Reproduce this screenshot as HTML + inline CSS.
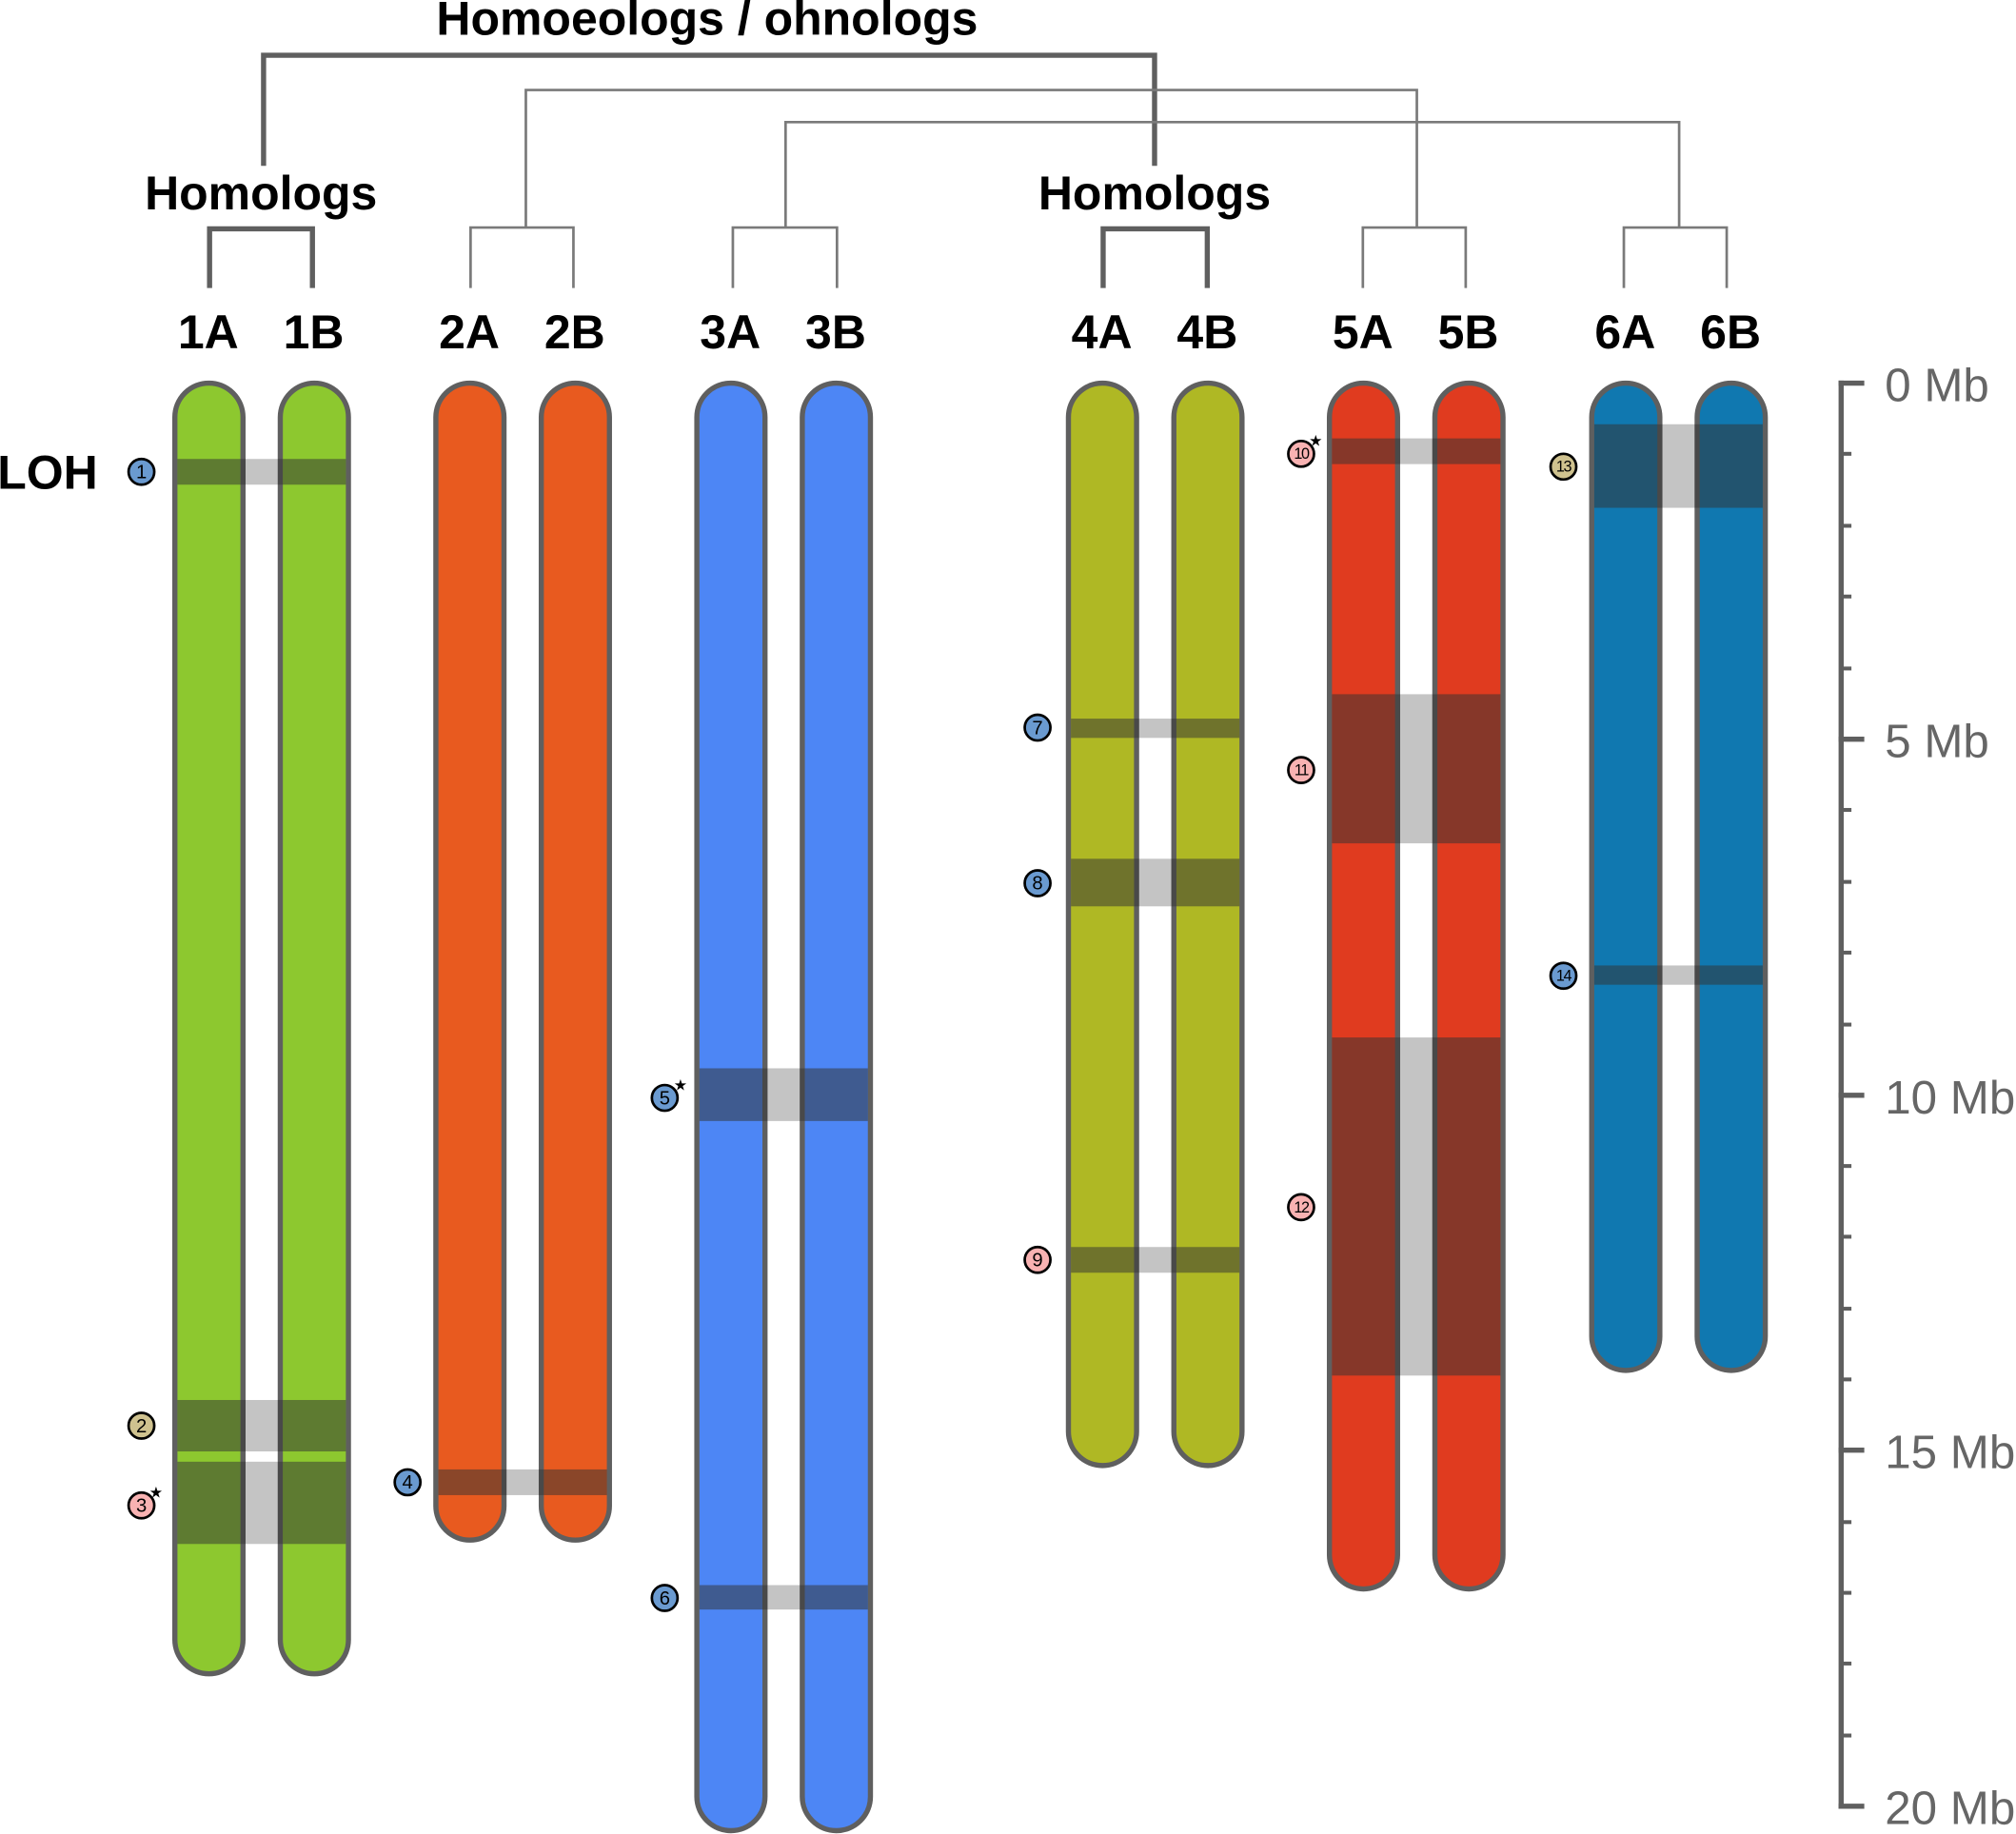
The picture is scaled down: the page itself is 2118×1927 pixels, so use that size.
<!DOCTYPE html>
<html><head><meta charset="utf-8"><style>
html,body{margin:0;padding:0;background:#fff;}
svg{display:block;}
text{font-family:"Liberation Sans",sans-serif;}
</style></head><body>
<svg width="2118" height="1927" viewBox="0 0 1568 1426.6" xmlns="http://www.w3.org/2000/svg">
<!-- tree -->
<g fill="none" stroke-linejoin="miter">
<polyline points="205,129 205,43 898,43 898,129" stroke="#5f5f5f" stroke-width="4"/>
<polyline points="409,177 409,70 1102,70 1102,177" stroke="#7a7a7a" stroke-width="2"/>
<polyline points="611,177 611,95 1306,95 1306,177" stroke="#7a7a7a" stroke-width="2"/>
<polyline points="163,224 163,178 243,178 243,224" stroke="#5f5f5f" stroke-width="4"/>
<polyline points="858,224 858,178 939,178 939,224" stroke="#5f5f5f" stroke-width="4"/>
<polyline points="366,224 366,177 446,177 446,224" stroke="#7a7a7a" stroke-width="2"/>
<polyline points="570,224 570,177 651,177 651,224" stroke="#7a7a7a" stroke-width="2"/>
<polyline points="1060,224 1060,177 1140,177 1140,224" stroke="#7a7a7a" stroke-width="2"/>
<polyline points="1263,224 1263,177 1343,177 1343,224" stroke="#7a7a7a" stroke-width="2"/>
</g>
<g font-weight="bold" font-size="37" fill="#000" text-anchor="middle">
<text x="550" y="27">Homoeologs / ohnologs</text>
<text x="203" y="163">Homologs</text>
<text x="898" y="163">Homologs</text>
<text x="162" y="271">1A</text><text x="244" y="271">1B</text>
<text x="365" y="271">2A</text><text x="447" y="271">2B</text>
<text x="568" y="271">3A</text><text x="650" y="271">3B</text>
<text x="857" y="271">4A</text><text x="939" y="271">4B</text>
<text x="1060" y="271">5A</text><text x="1142" y="271">5B</text>
<text x="1264" y="271">6A</text><text x="1346" y="271">6B</text>
<text x="37" y="380">LOH</text>
</g>
<!-- chromosomes -->
<g stroke="#5f5f5f" stroke-width="4">
<rect x="136" y="298" width="53" height="1004" rx="26.5" fill="#8dc82f"/>
<rect x="218" y="298" width="53" height="1004" rx="26.5" fill="#8dc82f"/>
<rect x="339" y="298" width="53" height="900" rx="26.5" fill="#e85a1f"/>
<rect x="421" y="298" width="53" height="900" rx="26.5" fill="#e85a1f"/>
<rect x="542" y="298" width="53" height="1126" rx="26.5" fill="#4d86f5"/>
<rect x="624" y="298" width="53" height="1126" rx="26.5" fill="#4d86f5"/>
<rect x="831" y="298" width="53" height="842" rx="26.5" fill="#afb824"/>
<rect x="913" y="298" width="53" height="842" rx="26.5" fill="#afb824"/>
<rect x="1034" y="298" width="53" height="938" rx="26.5" fill="#e03b1f"/>
<rect x="1116" y="298" width="53" height="938" rx="26.5" fill="#e03b1f"/>
<rect x="1238" y="298" width="53" height="768" rx="26.5" fill="#1078b0"/>
<rect x="1320" y="298" width="53" height="768" rx="26.5" fill="#1078b0"/>
</g>
<g>
<g fill="rgba(51,51,51,0.52)">
<rect x="138" y="357" width="49" height="20"/><rect x="220" y="357" width="49" height="20"/>
<rect x="138" y="1089" width="49" height="40"/><rect x="220" y="1089" width="49" height="40"/>
<rect x="138" y="1137" width="49" height="64"/><rect x="220" y="1137" width="49" height="64"/>
<rect x="341" y="1143" width="49" height="20"/><rect x="423" y="1143" width="49" height="20"/>
<rect x="544" y="831" width="49" height="41"/><rect x="626" y="831" width="49" height="41"/>
<rect x="544" y="1233" width="49" height="19"/><rect x="626" y="1233" width="49" height="19"/>
<rect x="833" y="559" width="49" height="15"/><rect x="915" y="559" width="49" height="15"/>
<rect x="833" y="668" width="49" height="37"/><rect x="915" y="668" width="49" height="37"/>
<rect x="833" y="970" width="49" height="20"/><rect x="915" y="970" width="49" height="20"/>
<rect x="1036" y="341" width="49" height="20"/><rect x="1118" y="341" width="49" height="20"/>
<rect x="1036" y="540" width="49" height="116"/><rect x="1118" y="540" width="49" height="116"/>
<rect x="1036" y="807" width="49" height="263"/><rect x="1118" y="807" width="49" height="263"/>
<rect x="1240" y="330" width="49" height="65"/><rect x="1322" y="330" width="49" height="65"/>
<rect x="1240" y="751" width="49" height="15"/><rect x="1322" y="751" width="49" height="15"/>
</g>
<g fill="rgba(0,0,0,0.23)">
<rect x="187" y="357" width="33" height="20"/>
<rect x="187" y="1089" width="33" height="40"/>
<rect x="187" y="1137" width="33" height="64"/>
<rect x="390" y="1143" width="33" height="20"/>
<rect x="593" y="831" width="33" height="41"/>
<rect x="593" y="1233" width="33" height="19"/>
<rect x="882" y="559" width="33" height="15"/>
<rect x="882" y="668" width="33" height="37"/>
<rect x="882" y="970" width="33" height="20"/>
<rect x="1085" y="341" width="33" height="20"/>
<rect x="1085" y="540" width="33" height="116"/>
<rect x="1085" y="807" width="33" height="263"/>
<rect x="1289" y="330" width="33" height="65"/>
<rect x="1289" y="751" width="33" height="15"/>
</g>
</g>
<!-- markers -->
<g stroke="#000" stroke-width="2">
<circle cx="110" cy="367" r="10" fill="#6a9ad0"/>
<circle cx="110" cy="1109" r="10" fill="#cfc28f"/>
<circle cx="110" cy="1171" r="10" fill="#f8b2b2"/>
<circle cx="317" cy="1153" r="10" fill="#6a9ad0"/>
<circle cx="517" cy="854" r="10" fill="#6a9ad0"/>
<circle cx="517" cy="1243" r="10" fill="#6a9ad0"/>
<circle cx="807" cy="566" r="10" fill="#6a9ad0"/>
<circle cx="807" cy="687" r="10" fill="#6a9ad0"/>
<circle cx="807" cy="980" r="10" fill="#f8b2b2"/>
<circle cx="1012" cy="353" r="10" fill="#f8b2b2"/>
<circle cx="1012" cy="599" r="10" fill="#f8b2b2"/>
<circle cx="1012" cy="939" r="10" fill="#f8b2b2"/>
<circle cx="1216" cy="363" r="10" fill="#cfc28f"/>
<circle cx="1216" cy="759" r="10" fill="#6a9ad0"/>
</g>
<g font-size="15" fill="#000" text-anchor="middle">
<text x="110" y="372">1</text><text x="110" y="1114">2</text><text x="110" y="1176">3</text>
<text x="317" y="1158">4</text><text x="517" y="859">5</text><text x="517" y="1248">6</text>
<text x="807" y="571">7</text><text x="807" y="692">8</text><text x="807" y="985">9</text>
</g>
<g font-size="12" fill="#000" text-anchor="middle" letter-spacing="-1">
<text x="1012" y="357">10</text><text x="1012" y="603">11</text><text x="1012" y="943">12</text>
<text x="1216" y="367">13</text><text x="1216" y="763">14</text>
</g>
<g font-size="12" fill="#000">
<text x="116" y="1165">★</text><text x="524" y="848">★</text><text x="1018" y="347">★</text>
</g>
<!-- axis -->
<g stroke="#5f5f5f" stroke-width="4" fill="none">
<line x1="1432" y1="296" x2="1432" y2="1407"/>
<line x1="1430" y1="298" x2="1450" y2="298"/>
<line x1="1430" y1="575" x2="1450" y2="575"/>
<line x1="1430" y1="852" x2="1450" y2="852"/>
<line x1="1430" y1="1128" x2="1450" y2="1128"/>
<line x1="1430" y1="1405" x2="1450" y2="1405"/>
<g stroke-width="3">
<line x1="1432" y1="353" x2="1440" y2="353"/><line x1="1432" y1="409" x2="1440" y2="409"/><line x1="1432" y1="464" x2="1440" y2="464"/><line x1="1432" y1="520" x2="1440" y2="520"/>
<line x1="1432" y1="630" x2="1440" y2="630"/><line x1="1432" y1="686" x2="1440" y2="686"/><line x1="1432" y1="741" x2="1440" y2="741"/><line x1="1432" y1="797" x2="1440" y2="797"/>
<line x1="1432" y1="907" x2="1440" y2="907"/><line x1="1432" y1="962" x2="1440" y2="962"/><line x1="1432" y1="1018" x2="1440" y2="1018"/><line x1="1432" y1="1073" x2="1440" y2="1073"/>
<line x1="1432" y1="1184" x2="1440" y2="1184"/><line x1="1432" y1="1239" x2="1440" y2="1239"/><line x1="1432" y1="1294" x2="1440" y2="1294"/><line x1="1432" y1="1350" x2="1440" y2="1350"/>
</g>
</g>
<g font-size="36.5" fill="#666">
<text x="1466" y="312">0 Mb</text>
<text x="1466" y="589">5 Mb</text>
<text x="1466" y="866">10 Mb</text>
<text x="1466" y="1142">15 Mb</text>
<text x="1466" y="1419">20 Mb</text>
</g>
</svg>
</body></html>
